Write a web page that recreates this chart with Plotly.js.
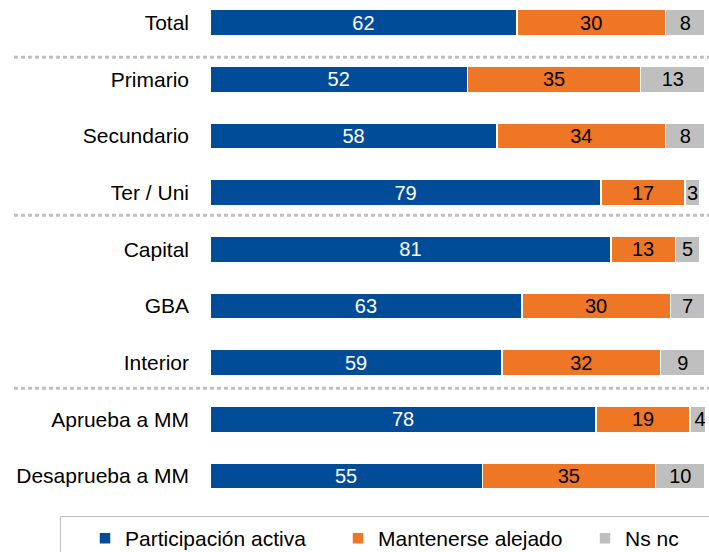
<!DOCTYPE html>
<html>
<head>
<meta charset="utf-8">
<script src="https://cdn.plot.ly/plotly-3.0.1.min.js"></script>
<style>html,body{margin:0;padding:0;background:#fff;}#chart{width:709px;height:552px;}</style>
</head>
<body>
<div id="chart"></div>
<script>
const categories = ["Total","Primario","Secundario","Ter / Uni","Capital","GBA","Interior","Aprueba a MM","Desaprueba a MM"];
const participacion = [62,52,58,79,81,63,59,78,55];
const alejado = [30,35,34,17,13,30,32,19,35];
const nsnc = [8,13,8,3,5,7,9,4,10];
const seriesNames = ["Participación activa","Mantenerse alejado","Ns nc"];
const separatorsAt = [0.61, 3.4, 6.45];

const FONT = "Liberation Sans, Arial, sans-serif";
const colors = ["#004C98","#EE7624","#BFBFBF"];
const textColors = ["#ffffff","#000000","#000000"];
const values = [participacion, alejado, nsnc];
const legendIds = ["legend","legend2","legend3"];
const legendX = [85, 338, 585];   // px positions of legend entries

const W = 709, H = 552, ML = 210, MR = 4, MT = 0, MB = 42;
const PW = W - ML - MR, PH = H - MT - MB;
const px2x = p => (p - ML) / PW;
const py2y = p => (H - MB - p) / PH;

const traces = values.map((v,i)=>({
  type:"bar", orientation:"h",
  name: seriesNames[i],
  legend: legendIds[i],
  y: categories, x: v,
  text: v.map(String),
  textposition:"inside", insidetextanchor:"middle", textangle:0,
  constraintext:"none",
  textfont:{family:FONT,size:20,color:textColors[i]},
  marker:{color:colors[i], line:{color:"#ffffff", width:1.5}},
  width:0.46,
  hoverinfo:"skip"
}));

const shapes = separatorsAt.map(s=>({
  type:"line", xref:"paper", yref:"y",
  x0:px2x(14), x1:px2x(712), y0:s, y1:s,
  line:{color:"#C0C0C0", width:3, dash:"4px,3px"}
}));
shapes.push({
  type:"rect", xref:"paper", yref:"paper",
  x0:px2x(60.5), x1:px2x(730), y0:py2y(516.5), y1:py2y(580),
  line:{color:"#BFBFBF", width:1}, fillcolor:"rgba(0,0,0,0)"
});

const layout = {
  width:W, height:H,
  margin:{l:ML, r:MR, t:MT, b:MB, autoexpand:false},
  paper_bgcolor:"#fff", plot_bgcolor:"#fff",
  barmode:"stack", bargap:0,
  showlegend:true,
  xaxis:{range:[0,100], visible:false, fixedrange:true},
  yaxis:{type:"category", categoryorder:"array", categoryarray:categories,
    range:[8.6,-0.4], showgrid:false, zeroline:false, showline:false,
    ticks:"", ticklabelstandoff:20,
    tickfont:{family:FONT, size:21, color:"#000"}},
  shapes: shapes,
  font:{family:FONT}
};
legendIds.forEach((id,i)=>{
  layout[id] = {orientation:"h", x:px2x(legendX[i]), xanchor:"left",
    y:py2y(518), yanchor:"top", borderwidth:0, bgcolor:"rgba(0,0,0,0)",
    font:{family:FONT, size:21, color:"#000"}};
});

Plotly.newPlot("chart", traces, layout, {staticPlot:true, displayModeBar:false});
</script>
</body>
</html>
